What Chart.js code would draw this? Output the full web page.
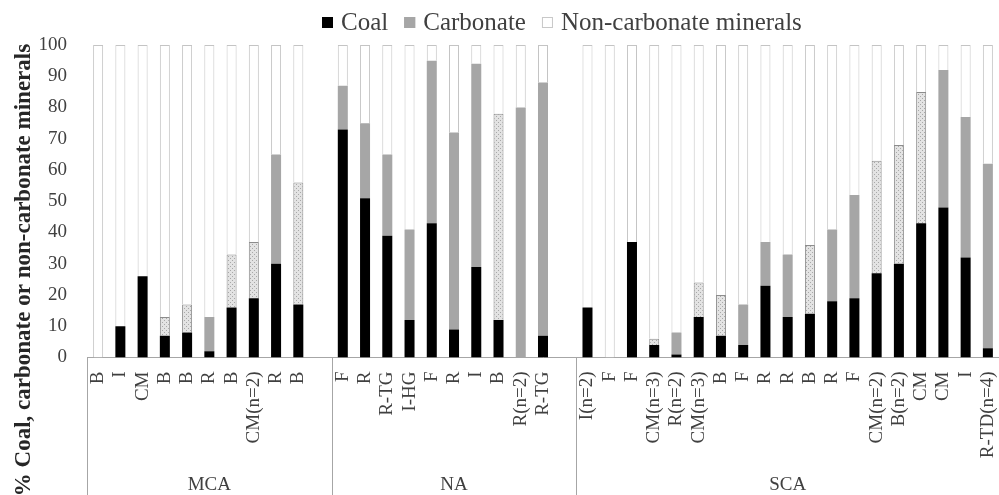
<!DOCTYPE html>
<html><head><meta charset="utf-8">
<script src="https://cdn.jsdelivr.net/npm/chart.js@4.4.1/dist/chart.umd.min.js"></script>
<style>html,body{margin:0;padding:0;background:#fff}#wrap{width:999px;height:495px;position:relative}</style>
</head><body><div id="wrap"><canvas id="c" width="999" height="495"></canvas></div>
<script>
// ---- data (blank '' slots separate the regions) ----
const regions = ['MCA', 'NA', 'SCA'];
const regionStart = [0, 11, 22];
const regionEnd = [11, 22, 41];
const categories = ['B','I','CM','B','B','R','B','CM(n=2)','R','B','',
  'F','R','R-TG','I-HG','F','R','I','B','R(n=2)','R-TG','',
  'I(n=2)','F','F','CM(n=3)','R(n=2)','CM(n=3)','B','F','R','R','B','R','F','CM(n=2)','B(n=2)','CM','CM','I','R-TD(n=4)'];
const coal = [0,10,26,7,8,2,16,19,30,17,null,
  73,51,39,12,43,9,29,12,0,7,null,
  16,0,37,4,1,13,7,4,23,13,14,18,19,27,30,43,48,32,3];
const carbonate = [0,0,0,6,9,11,17,18,35,39,null,
  14,24,26,29,52,63,65,66,80,81,null,
  0,0,0,2,7,11,13,13,14,20,22,23,33,36,38,42,44,45,59];
const nonCarbonate = [100,90,74,87,83,87,67,63,35,44,null,
  13,25,35,59,5,28,6,22,20,12,null,
  84,100,63,94,92,76,80,83,63,67,64,59,48,37,32,15,8,23,38];
// which carbonate segments are shown with the dotted fill
const carbonateDotted = [0,0,0,1,1,0,1,1,0,1,0,
  0,0,0,0,0,0,0,1,0,0,0,
  0,0,0,1,0,1,1,0,0,0,1,0,0,1,1,1,0,0,0];
const yTicks = [0,10,20,30,40,50,60,70,80,90,100];

const SERIF = "'Liberation Serif','Times New Roman',serif";
const canvas = document.getElementById('c');
const ctx = canvas.getContext('2d');

function makeDots(){
  const p = document.createElement('canvas'); p.width = 4; p.height = 4;
  const c = p.getContext('2d');
  c.fillStyle = '#e3e3e3'; c.fillRect(0,0,4,4);
  c.fillStyle = '#a8a8a8'; c.fillRect(0,0,1,1); c.fillRect(2,2,1,1);
  return ctx.createPattern(p, 'repeat');
}
const dots = makeDots();

const decor = {
  id: 'decor',
  afterDraw(chart){
    const c = chart.ctx, xs = chart.scales.x, area = chart.chartArea;
    c.save();
    // region separators
    c.strokeStyle = '#a6a6a6'; c.lineWidth = 1;
    regionStart.concat([41]).forEach(b => {
      const x = Math.round(xs.getPixelForValue(b - 0.5)) + 0.5;
      c.beginPath(); c.moveTo(x, area.bottom); c.lineTo(x, chart.height); c.stroke();
    });
    // region labels
    c.fillStyle = '#404040'; c.font = '19px ' + SERIF;
    c.textAlign = 'center'; c.textBaseline = 'middle';
    regions.forEach((r, i) => {
      const x = (xs.getPixelForValue(regionStart[i] - 0.5) + xs.getPixelForValue(regionEnd[i] - 0.5)) / 2;
      c.fillText(r, x, 485);
    });
    // y title
    c.save();
    c.translate(24, 270); c.rotate(-Math.PI / 2);
    c.font = 'bold 23px ' + SERIF; c.fillStyle = '#262626';
    c.fillText('% Coal, carbonate or non-carbonate minerals', 0, 0);
    c.restore();
    // legend
    c.font = '25px ' + SERIF; c.textAlign = 'left'; c.textBaseline = 'middle';
    let x = 322; const y = 22.5;
    const sw = [['#000','#000'], ['#a6a6a6','#a6a6a6'], ['#fff','#c8c8c8']];
    chart.data.datasets.forEach((d, i) => {
      c.fillStyle = sw[i][0]; c.fillRect(x, y - 5.5, 11, 11);
      c.strokeStyle = sw[i][1]; c.lineWidth = 1; c.strokeRect(x + 0.5, y - 5, 10, 10);
      c.fillStyle = '#404040';
      c.fillText(d.label, x + 19, y + 1);
      x += 19 + c.measureText(d.label).width + 16;
    });
    c.restore();
  }
};

new Chart(canvas, {
  type: 'bar',
  data: {
    labels: categories,
    datasets: [
      { label: 'Coal', data: coal, backgroundColor: '#000000', borderWidth: 0 },
      { label: 'Carbonate', data: carbonate,
        backgroundColor: carbonateDotted.map(h => h ? dots : '#a6a6a6'),
        borderColor: carbonateDotted.map(h => h ? '#8c8c8c' : '#a6a6a6'),
        borderWidth: carbonateDotted.map(h => h ? 1 : 0) },
      { label: 'Non-carbonate minerals', data: nonCarbonate, backgroundColor: '#ffffff',
        borderColor: '#c4c4c4', borderWidth: 1 }
    ]
  },
  options: {
    responsive: false, animation: false, devicePixelRatio: 1,
    layout: { padding: { top: 45, left: 0, right: 0, bottom: 0 } },
    datasets: { bar: { barPercentage: 0.45, categoryPercentage: 1 } },
    plugins: { legend: { display: false }, tooltip: { enabled: false } },
    scales: {
      x: {
        stacked: true,
        grid: { display: false, drawTicks: false },
        border: { display: true, color: '#a6a6a6' },
        ticks: { autoSkip: false, maxRotation: 90, minRotation: 90, padding: 14,
          font: { family: SERIF, size: 19 }, color: '#404040' },
        afterFit(s){ s.height = 137.5; s.paddingLeft = 0; s.paddingRight = 0; }
      },
      y: {
        stacked: true, min: 0, max: 100,
        afterBuildTicks(s){ s.ticks = yTicks.map(v => ({ value: v })); },
        grid: { display: false, drawTicks: false },
        border: { display: false },
        ticks: { padding: 20, font: { family: SERIF, size: 19 }, color: '#404040' },
        afterFit(s){ s.width = 87; s.paddingTop = 0; s.paddingBottom = 0; }
      }
    }
  },
  plugins: [decor]
});
</script>
</body></html>
